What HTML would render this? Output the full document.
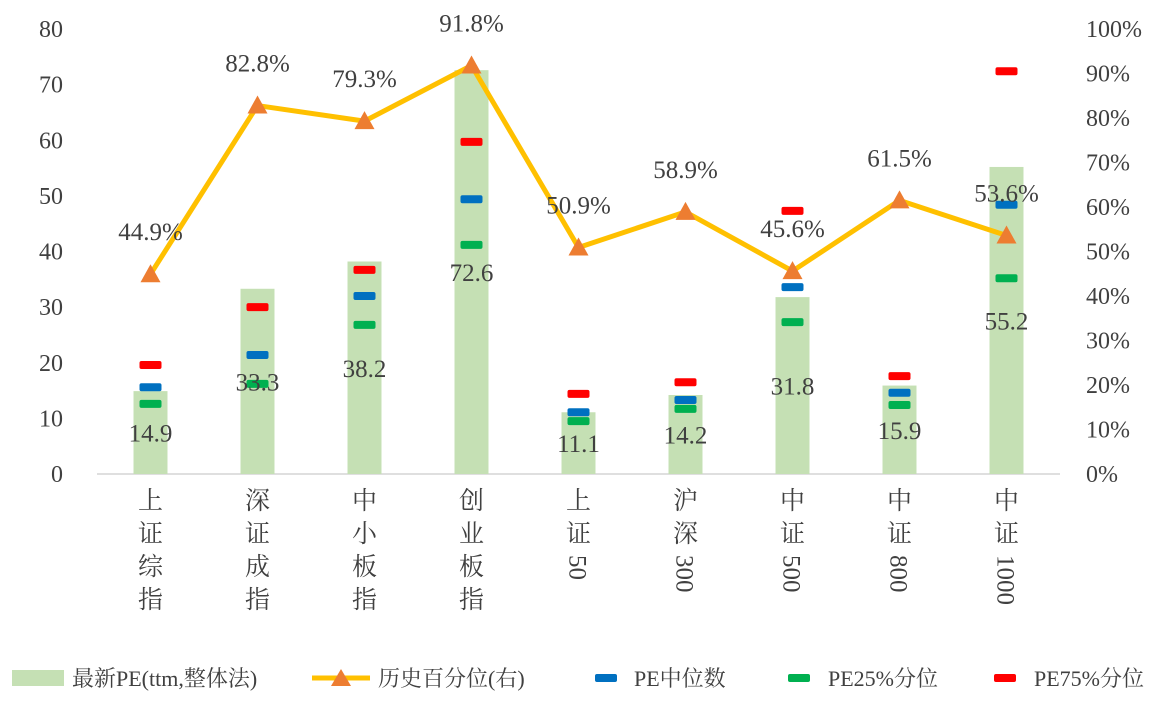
<!DOCTYPE html>
<html><head><meta charset="utf-8"><style>
body{margin:0;background:#fff;}
svg text{font-family:"Liberation Serif","Noto Serif CJK SC",serif;fill:#404040;}
</style></head><body>
<svg id="chart" width="1170" height="705" xmlns="http://www.w3.org/2000/svg">
<g id="axes"></g><g id="bars"></g><g id="marks"></g><g id="line"></g><g id="labels"></g>
<g id="legend">
 <rect x="12" y="670" width="52" height="16" fill="#C5E0B4"/>
 <text x="72" y="686" font-size="22">最新PE(ttm,整体法)</text>
 <line x1="312" y1="678" x2="370" y2="678" stroke="#FFC000" stroke-width="5"/>
 <polygon points="341,669 351,686 331,686" fill="#ED7D31"/>
 <text x="378" y="686" font-size="22">历史百分位(右)</text>
 <rect x="595" y="674" width="22" height="8" rx="2" fill="#0070C0"/>
 <text x="634" y="686" font-size="22">PE中位数</text>
 <rect x="788" y="674" width="22" height="8" rx="2" fill="#00B050"/>
 <text x="828" y="686" font-size="22">PE25%分位</text>
 <rect x="994" y="674" width="22" height="8" rx="2" fill="#FF0000"/>
 <text x="1034" y="686" font-size="22">PE75%分位</text>
</g>
</svg>
<script>
const categories=["上证综指","深证成指","中小板指","创业板指","上证50","沪深300","中证500","中证800","中证1000"];
const peLatest=[14.9,33.3,38.2,72.6,11.1,14.2,31.8,15.9,55.2];
const percentile=[44.9,82.8,79.3,91.8,50.9,58.9,45.6,61.5,53.6];
const peMedian=[15.6,21.4,32.0,49.4,11.1,13.3,33.6,14.6,48.4];
const pe25=[12.6,16.2,26.8,41.2,9.5,11.7,27.3,12.4,35.2];
const pe75=[19.6,30.0,36.7,59.7,14.4,16.5,47.3,17.6,72.4];
const leftTicks=[0,10,20,30,40,50,60,70,80];
const rightTicks=[0,10,20,30,40,50,60,70,80,90,100];
const NS="http://www.w3.org/2000/svg";
const x0=97,x1=1060,yb=474,yt=29;
const step=(x1-x0)/categories.length;
const xc=i=>x0+step*(i+0.5);
const yL=v=>yb-(v/80)*(yb-yt);
const yR=v=>yb-(v/100)*(yb-yt);
function mk(tag,attrs,parent,txt){const e=document.createElementNS(NS,tag);for(const k in attrs)e.setAttribute(k,attrs[k]);if(txt!==undefined)e.textContent=txt;document.getElementById(parent).appendChild(e);return e;}
let e;
e=mk("line",{x1:x0,y1:yb,x2:x1,y2:yb,stroke:"#BFBFBF","stroke-width":1},"axes");


leftTicks.forEach(t=>{e=mk("text",{x:63,y:yL(t)+8,"font-size":24,"text-anchor":"end"},"axes",String(t));

});
rightTicks.forEach(t=>{e=mk("text",{x:1086,y:yR(t)+8,"font-size":24},"axes",t+"%");

});
categories.forEach((c,i)=>{const chars=c.match(/[\u4e00-\u9fff]|\d+/g);let y=509;
 const g=mk("g",{},"axes");
 
 
 chars.forEach(ch=>{if(/\d/.test(ch)){const t=document.createElementNS(NS,"text");t.setAttribute("transform",`translate(${xc(i)-9},${y-20}) rotate(90)`);t.setAttribute("font-size","25");t.textContent=ch;g.appendChild(t);y+=ch.length*13;}
 else{const t=document.createElementNS(NS,"text");t.setAttribute("x",xc(i));t.setAttribute("y",y);t.setAttribute("font-size","25");t.setAttribute("text-anchor","middle");t.textContent=ch;g.appendChild(t);y+=33;}});
});
peLatest.forEach((v,i)=>{e=mk("rect",{x:xc(i)-17,y:yL(v),width:34,height:yb-yL(v),fill:"#C5E0B4"},"bars");


e=mk("text",{x:xc(i),y:(yL(v)+yb)/2+9,"font-size":25,"text-anchor":"middle"},"labels",v.toFixed(1));

});
[[peMedian,"#0070C0","median"],[pe25,"#00B050","p25"],[pe75,"#FF0000","p75"]].forEach(([arr,col,n])=>arr.forEach((v,i)=>{
 e=mk("rect",{x:xc(i)-11,y:yL(v)-4,width:22,height:8,rx:2,fill:col},"marks");
 
 }));
e=mk("polyline",{points:percentile.map((v,i)=>xc(i)+","+yR(v)).join(" "),fill:"none",stroke:"#FFC000","stroke-width":5,"stroke-linejoin":"round"},"line");


percentile.forEach((v,i)=>{const x=xc(i),y=yR(v);
 e=mk("polygon",{points:`${x},${y-10} ${x+10},${y+8} ${x-10},${y+8}`,fill:"#ED7D31"},"line");
 
 
 e=mk("text",{x:x,y:y-34,"font-size":25,"text-anchor":"middle"},"labels",v.toFixed(1)+"%");
 
 });
</script>
</body></html>
